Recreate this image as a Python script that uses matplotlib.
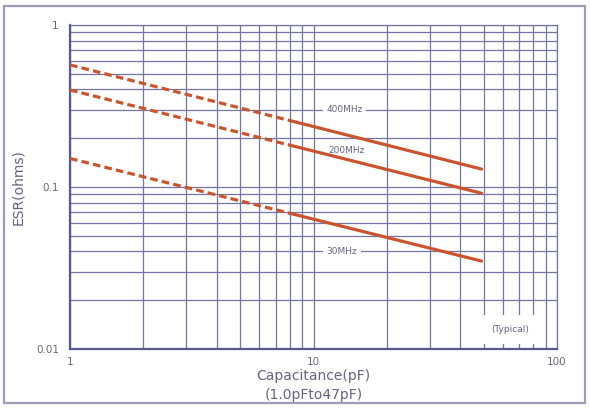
import numpy as np
import matplotlib.pyplot as plt
from matplotlib.patches import FancyBboxPatch
from matplotlib.ticker import LogLocator, NullFormatter, FixedLocator, FixedFormatter


# Capacitance range (pF) and where the measured (solid) part starts
cap_start = 1.0
cap_split = 8.0
cap_end = 49.0

# ESR (ohms) read at the start and end of each curve
series_names = ['400MHz', '200MHz', '30MHz']
esr_at_start = [0.567, 0.397, 0.150]
esr_at_end = [0.129, 0.0915, 0.0349]

# Label positions (capacitance, ESR)
label_x = [13.4, 13.7, 13.1]
label_y = [0.30, 0.168, 0.040]

x_ticks = [1, 10, 100]
x_tick_labels = ['1', '10', '100']
y_ticks = [0.01, 0.1, 1]
y_tick_labels = ['0.01', '0.1', '1']

LINE_COLOR = '#c8552e'
GRID_COLOR = '#7376a3'
SPINE_COLOR = '#56598a'
TEXT_COLOR = '#636480'


def esr_curve(x, y0, y1):
    # straight line in log-log space between the two read points
    slope = (np.log10(y1) - np.log10(y0)) / (np.log10(cap_end) - np.log10(cap_start))
    return y0 * (x / cap_start) ** slope


fig = plt.figure(figsize=(5.9, 4.08), dpi=100)
fig.patch.set_facecolor('white')

# Outer frame around the whole chart
frame = FancyBboxPatch((4 / 590, 5 / 408), 581 / 590, 397 / 408,
                       boxstyle='square,pad=0', transform=fig.transFigure,
                       facecolor='none', edgecolor='#9a9cb8', linewidth=1.6)
fig.patches.append(frame)

ax = fig.add_axes([70 / 590, 1 - 349 / 408, 487 / 590, 324 / 408])
ax.set_xscale('log')
ax.set_yscale('log')
ax.set_xlim(1, 100)
ax.set_ylim(0.01, 1)

# Grid: every minor decade step
ax.xaxis.set_major_locator(FixedLocator(x_ticks))
ax.xaxis.set_major_formatter(FixedFormatter(x_tick_labels))
ax.yaxis.set_major_locator(FixedLocator(y_ticks))
ax.yaxis.set_major_formatter(FixedFormatter(y_tick_labels))
ax.xaxis.set_minor_locator(LogLocator(base=10, subs=np.arange(2, 10)))
ax.yaxis.set_minor_locator(LogLocator(base=10, subs=np.arange(2, 10)))
ax.xaxis.set_minor_formatter(NullFormatter())
ax.yaxis.set_minor_formatter(NullFormatter())
ax.grid(which='both', color=GRID_COLOR, linewidth=0.9)
ax.tick_params(which='both', length=0, labelsize=7.5, labelcolor='#68687a')
ax.tick_params(axis='x', pad=6)
ax.tick_params(axis='y', pad=8)
ax.set_axisbelow(True)

for side in ['left', 'bottom']:
    ax.spines[side].set_color(SPINE_COLOR)
    ax.spines[side].set_linewidth(1.6)
for side in ['right', 'top']:
    ax.spines[side].set_color(GRID_COLOR)
    ax.spines[side].set_linewidth(0.9)

x_dash = np.array([cap_start, cap_split])
x_solid = np.array([cap_split, cap_end])

for name, y0, y1, lx, ly in zip(series_names, esr_at_start, esr_at_end, label_x, label_y):
    ax.plot(x_dash, esr_curve(x_dash, y0, y1), color=LINE_COLOR, linewidth=2.3,
            linestyle=(0, (2.4, 1.3)), solid_capstyle='butt', zorder=3)
    ax.plot(x_solid, esr_curve(x_solid, y0, y1), color=LINE_COLOR, linewidth=2.3,
            solid_capstyle='round', zorder=3)
    # labels sit under the curves but above the grid
    ax.text(lx, ly, name, fontsize=6.5, color=TEXT_COLOR, ha='center', va='center',
            zorder=2, bbox=dict(facecolor='white', edgecolor='none', pad=2.5))

ax.text(64, 0.0132, '(Typical)', fontsize=6.5, color=TEXT_COLOR, ha='center',
        va='center', zorder=2,
        bbox=dict(facecolor='white', edgecolor='none', pad=7))

ax.set_xlabel('Capacitance(pF)\n(1.0pFto47pF)', fontsize=10, color=TEXT_COLOR,
              labelpad=1, linespacing=1.5)
ax.set_ylabel('ESR(ohms)', fontsize=10, color=TEXT_COLOR, labelpad=8)

plt.savefig('out.png', dpi=100)
